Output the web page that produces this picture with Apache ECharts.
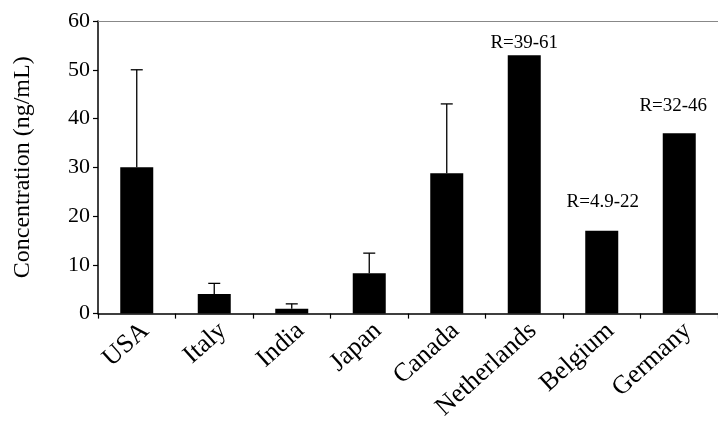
<!DOCTYPE html>
<html>
<head>
<meta charset="utf-8">
<script src="https://cdn.jsdelivr.net/npm/echarts@6/dist/echarts.min.js"></script>
<style>
html,body{margin:0;padding:0;background:#fff;}
#chart{width:718px;height:423px;}
</style>
</head>
<body>
<div id="chart"></div>
<script>
const categories = ['USA', 'Italy', 'India', 'Japan', 'Canada', 'Netherlands', 'Belgium', 'Germany'];
const means = [30, 4, 1, 8.3, 28.8, 53, 17, 37];
const errorUpper = [50, 6.2, 2, 12.4, 43, null, null, null];
const rangeLabels = ['', '', '', '', '', 'R=39-61', 'R=4.9-22', 'R=32-46'];
const yTicks = [0, 10, 20, 30, 40, 50, 60];

const FONT = 'Liberation Serif';
const labelDistance = [0, 0, 0, 0, 0, 3, 19, 18];
const labelOffsetX = [0, 0, 0, 0, 0, 0, 1, -6];

const chart = echarts.init(document.getElementById('chart'), null, {renderer: 'canvas'});

const barData = means.map((v, i) => {
  const item = {value: v};
  if (rangeLabels[i]) {
    item.label = {
      show: true,
      position: 'top',
      distance: labelDistance[i],
      offset: [labelOffsetX[i], 0],
      formatter: rangeLabels[i],
      color: '#000',
      fontFamily: FONT,
      fontSize: 19
    };
  }
  return item;
});

const errData = [];
errorUpper.forEach((u, i) => { if (u != null) errData.push([i, means[i], u]); });

chart.setOption({
  animation: false,
  backgroundColor: '#fff',
  grid: {left: 98, top: 21, width: 627, height: 294, containLabel: false},
  xAxis: [{
    type: 'category',
    data: categories,
    boundaryGap: true,
    axisLine: {show: true, lineStyle: {color: '#000', width: 1.5}},
    axisTick: {show: true, alignWithLabel: false, length: 5, lineStyle: {color: '#000', width: 1.2}},
    axisLabel: {rotate: 42, margin: 4, verticalAlign: 'top', color: '#000', fontFamily: FONT, fontSize: 26, interval: 0},
    splitLine: {show: false}
  }, {
    type: 'category',
    data: categories,
    position: 'top',
    axisLine: {show: true, lineStyle: {color: '#888', width: 1.2}},
    axisTick: {show: false},
    axisLabel: {show: false}
  }],
  yAxis: {
    type: 'value',
    min: yTicks[0],
    max: yTicks[yTicks.length - 1],
    interval: 10,
    name: 'Concentration (ng/mL)',
    nameLocation: 'middle',
    nameGap: 63,
    nameTextStyle: {color: '#000', fontFamily: FONT, fontSize: 24},
    axisLine: {show: true, lineStyle: {color: '#000', width: 1.5}},
    axisTick: {show: true, inside: false, length: 5, lineStyle: {color: '#000', width: 1.2}},
    axisLabel: {margin: 8, color: '#000', fontFamily: FONT, fontSize: 22},
    splitLine: {show: false}
  },
  series: [{
    type: 'bar',
    data: barData,
    barWidth: 33,
    itemStyle: {color: '#000'},
    z: 2
  }, {
    type: 'custom',
    data: errData,
    z: 3,
    renderItem: function (params, api) {
      const x = api.value(0);
      const base = api.coord([x, api.value(1)]);
      const top = api.coord([x, api.value(2)]);
      const style = {stroke: '#000', lineWidth: 1.3};
      return {
        type: 'group',
        children: [
          {type: 'line', shape: {x1: base[0], y1: base[1], x2: top[0], y2: top[1]}, style: style},
          {type: 'line', shape: {x1: top[0] - 6, y1: top[1], x2: top[0] + 6, y2: top[1]}, style: style}
        ]
      };
    }
  }]
});
</script>
</body>
</html>
